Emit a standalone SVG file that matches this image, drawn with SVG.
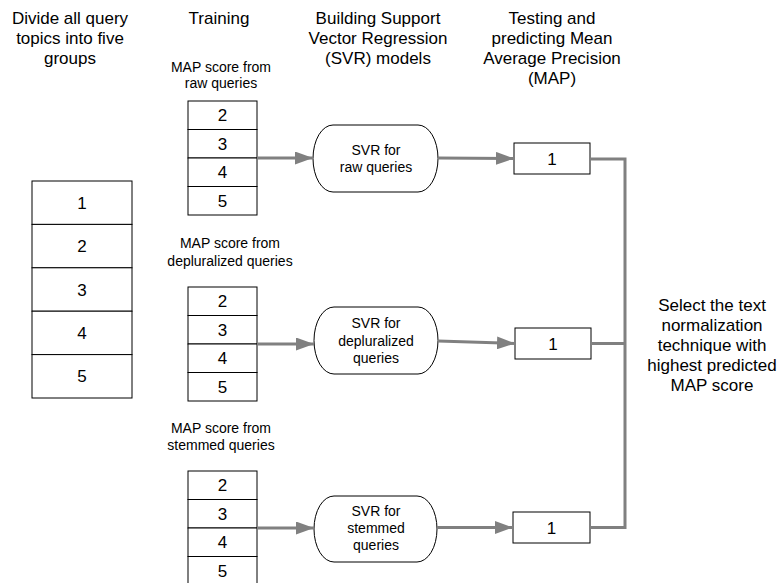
<svg xmlns="http://www.w3.org/2000/svg" width="779" height="583" viewBox="0 0 779 583">
<defs>
<style>
text{font-family:"Liberation Sans",Arial,Helvetica,sans-serif;fill:#000;text-anchor:middle}
.h{font-size:17px}
.s{font-size:14px}
.n{font-size:17px}
.box{fill:#fff;stroke:#000;stroke-width:1}
.conn{fill:none;stroke:#808080;stroke-width:3}
</style>
<marker id="arr" markerUnits="userSpaceOnUse" markerWidth="18" markerHeight="13" refX="18" refY="6.5" orient="auto">
<path d="M0,0 L18,6.5 L0,13 z" fill="#808080"/>
</marker>
</defs>
<rect width="779" height="583" fill="#fff"/>

<g id="headers">
<text class="h" x="70" y="24">Divide all query</text>
<text class="h" x="70" y="44">topics into five</text>
<text class="h" x="70" y="64">groups</text>
<text class="h" x="219" y="24">Training</text>
<text class="h" x="378" y="24">Building Support</text>
<text class="h" x="378" y="44">Vector Regression</text>
<text class="h" x="378" y="64">(SVR) models</text>
<text class="h" x="552" y="24">Testing and</text>
<text class="h" x="552" y="44">predicting Mean</text>
<text class="h" x="552" y="64">Average Precision</text>
<text class="h" x="552" y="84">(MAP)</text>
</g>

<g id="groups">
<rect class="box" x="32" y="181" width="100" height="43.4"/>
<rect class="box" x="32" y="224.4" width="100" height="43.4"/>
<rect class="box" x="32" y="267.8" width="100" height="43.4"/>
<rect class="box" x="32" y="311.2" width="100" height="43.4"/>
<rect class="box" x="32" y="354.6" width="100" height="43.4"/>
<text class="n" x="82" y="208.7">1</text>
<text class="n" x="82" y="252.1">2</text>
<text class="n" x="82" y="295.5">3</text>
<text class="n" x="82" y="338.9">4</text>
<text class="n" x="82" y="382.3">5</text>
</g>

<g id="train-raw">
<text class="s" x="221" y="71.5">MAP score from</text>
<text class="s" x="221" y="88">raw queries</text>
<rect class="box" x="188" y="101" width="69" height="28.5"/>
<rect class="box" x="188" y="129.5" width="69" height="28.5"/>
<rect class="box" x="188" y="158" width="69" height="28.5"/>
<rect class="box" x="188" y="186.5" width="69" height="28.5"/>
<text class="n" x="222.5" y="121.2">2</text>
<text class="n" x="222.5" y="149.7">3</text>
<text class="n" x="222.5" y="178.2">4</text>
<text class="n" x="222.5" y="206.7">5</text>
</g>

<g id="train-depl">
<text class="s" x="230" y="248">MAP score from</text>
<text class="s" x="230" y="265.5">depluralized queries</text>
<rect class="box" x="188" y="287" width="69" height="28.5"/>
<rect class="box" x="188" y="315.5" width="69" height="28.5"/>
<rect class="box" x="188" y="344" width="69" height="28.5"/>
<rect class="box" x="188" y="372.5" width="69" height="28.5"/>
<text class="n" x="222.5" y="307.2">2</text>
<text class="n" x="222.5" y="335.7">3</text>
<text class="n" x="222.5" y="364.2">4</text>
<text class="n" x="222.5" y="392.7">5</text>
</g>

<g id="train-stem">
<text class="s" x="221" y="433">MAP score from</text>
<text class="s" x="221" y="450">stemmed queries</text>
<rect class="box" x="188" y="471" width="69" height="28.5"/>
<rect class="box" x="188" y="499.5" width="69" height="28.5"/>
<rect class="box" x="188" y="528" width="69" height="28.5"/>
<rect class="box" x="188" y="556.5" width="69" height="28.5"/>
<text class="n" x="222.5" y="491.2">2</text>
<text class="n" x="222.5" y="519.7">3</text>
<text class="n" x="222.5" y="548.2">4</text>
<text class="n" x="222.5" y="576.7">5</text>
</g>

<g id="svr-raw">
<path class="box" d="M333,125 H418 A20,33.5 0 0 1 418,192 H333 A20,33.5 0 0 1 333,125 Z"/>
<text class="s" x="376" y="155">SVR for</text>
<text class="s" x="376" y="172">raw queries</text>
</g>
<g id="svr-depl">
<path class="box" d="M334,307 H418 A20,33.5 0 0 1 418,374 H334 A20,33.5 0 0 1 334,307 Z"/>
<text class="s" x="376" y="328">SVR for</text>
<text class="s" x="376" y="345.5">depluralized</text>
<text class="s" x="376" y="363">queries</text>
</g>
<g id="svr-stem">
<path class="box" d="M334,496 H417 A20,33 0 0 1 417,562 H334 A20,33 0 0 1 334,496 Z"/>
<text class="s" x="376" y="516">SVR for</text>
<text class="s" x="376" y="533">stemmed</text>
<text class="s" x="376" y="550">queries</text>
</g>

<g id="test-raw">
<rect class="box" x="514" y="143" width="76" height="31"/>
<text class="n" x="552" y="164.5">1</text>
</g>
<g id="test-depl">
<rect class="box" x="515" y="328" width="76" height="31"/>
<text class="n" x="553" y="349.5">1</text>
</g>
<g id="test-stem">
<rect class="box" x="513" y="512" width="77" height="31"/>
<text class="n" x="551.5" y="533.5">1</text>
</g>

<g id="select">
<text class="h" x="712" y="310.5">Select the text</text>
<text class="h" x="712" y="330.5">normalization</text>
<text class="h" x="712" y="350.5">technique with</text>
<text class="h" x="712" y="370.5">highest predicted</text>
<text class="h" x="712" y="390.5">MAP score</text>
</g>

<g id="connectors">
<line class="conn" x1="257" y1="158" x2="313" y2="158" marker-end="url(#arr)"/>
<line class="conn" x1="257" y1="344" x2="314" y2="344" marker-end="url(#arr)"/>
<line class="conn" x1="257" y1="528" x2="314" y2="528" marker-end="url(#arr)"/>
<line class="conn" x1="438" y1="158" x2="514" y2="158.5" marker-end="url(#arr)"/>
<line class="conn" x1="438" y1="341" x2="515" y2="343.5" marker-end="url(#arr)"/>
<line class="conn" x1="437" y1="527.5" x2="513" y2="527.5" marker-end="url(#arr)"/>
<path class="conn" d="M590,159 H625 V527.5 H590"/>
<path class="conn" d="M591,343.5 H625"/>
</g>
</svg>
